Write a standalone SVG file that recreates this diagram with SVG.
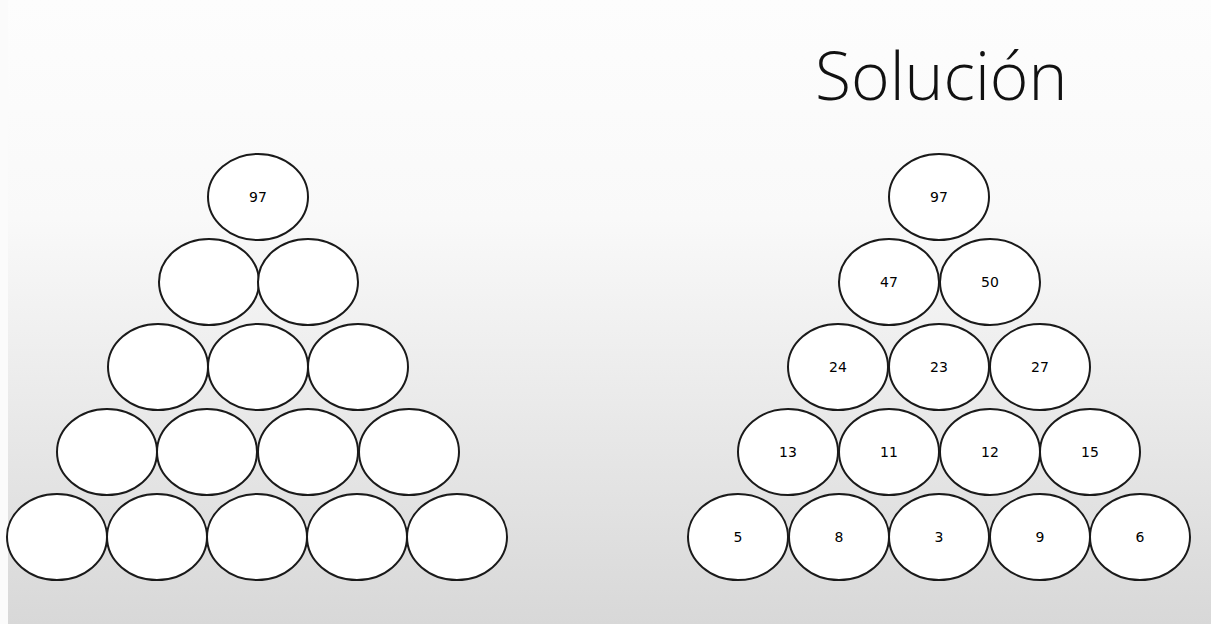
<svg xmlns="http://www.w3.org/2000/svg" width="1211" height="624" viewBox="0 0 1211 624">
  <defs>
    <linearGradient id="bg" x1="0" y1="0" x2="0" y2="1">
      <stop offset="0" stop-color="#fdfdfd"/>
      <stop offset="0.35" stop-color="#f9f9f9"/>
      <stop offset="1" stop-color="#d8d8d8"/>
    </linearGradient>
  </defs>
  <style>
    .c { fill: #ffffff; stroke: #1a1a1a; stroke-width: 2; }
    .n { font-family: "DejaVu Sans", Verdana, sans-serif; font-size: 14px; fill: #000000; text-anchor: middle; }
    .t { font-family: "Open Sans", "Noto Sans", sans-serif; font-weight: 300; font-size: 66px; fill: #111111; }
  </style>
  <rect x="0" y="0" width="1211" height="624" fill="url(#bg)"/>
  <rect x="0" y="0" width="8" height="624" fill="#fbfbfb"/>

  <text class="t" x="815" y="100">Solución</text>

  <g id="left-pyramid">
    <g id="L1"><ellipse class="c" cx="258" cy="197" rx="50" ry="43"/><text class="n" x="258" y="202">97</text></g>
    <g id="L2a"><ellipse class="c" cx="209" cy="282" rx="50" ry="43"/></g>
    <g id="L2b"><ellipse class="c" cx="308" cy="282" rx="50" ry="43"/></g>
    <g id="L3a"><ellipse class="c" cx="158" cy="367" rx="50" ry="43"/></g>
    <g id="L3b"><ellipse class="c" cx="258" cy="367" rx="50" ry="43"/></g>
    <g id="L3c"><ellipse class="c" cx="358" cy="367" rx="50" ry="43"/></g>
    <g id="L4a"><ellipse class="c" cx="107" cy="452" rx="50" ry="43"/></g>
    <g id="L4b"><ellipse class="c" cx="207" cy="452" rx="50" ry="43"/></g>
    <g id="L4c"><ellipse class="c" cx="308" cy="452" rx="50" ry="43"/></g>
    <g id="L4d"><ellipse class="c" cx="409" cy="452" rx="50" ry="43"/></g>
    <g id="L5a"><ellipse class="c" cx="57" cy="537" rx="50" ry="43"/></g>
    <g id="L5b"><ellipse class="c" cx="157" cy="537" rx="50" ry="43"/></g>
    <g id="L5c"><ellipse class="c" cx="257" cy="537" rx="50" ry="43"/></g>
    <g id="L5d"><ellipse class="c" cx="357" cy="537" rx="50" ry="43"/></g>
    <g id="L5e"><ellipse class="c" cx="457" cy="537" rx="50" ry="43"/></g>
  </g>

  <g id="right-pyramid">
    <g id="R1"><ellipse class="c" cx="939" cy="197" rx="50" ry="43"/><text class="n" x="939" y="202">97</text></g>
    <g id="R2a"><ellipse class="c" cx="889" cy="282" rx="50" ry="43"/><text class="n" x="889" y="287">47</text></g>
    <g id="R2b"><ellipse class="c" cx="990" cy="282" rx="50" ry="43"/><text class="n" x="990" y="287">50</text></g>
    <g id="R3a"><ellipse class="c" cx="838" cy="367" rx="50" ry="43"/><text class="n" x="838" y="372">24</text></g>
    <g id="R3b"><ellipse class="c" cx="939" cy="367" rx="50" ry="43"/><text class="n" x="939" y="372">23</text></g>
    <g id="R3c"><ellipse class="c" cx="1040" cy="367" rx="50" ry="43"/><text class="n" x="1040" y="372">27</text></g>
    <g id="R4a"><ellipse class="c" cx="788" cy="452" rx="50" ry="43"/><text class="n" x="788" y="457">13</text></g>
    <g id="R4b"><ellipse class="c" cx="889" cy="452" rx="50" ry="43"/><text class="n" x="889" y="457">11</text></g>
    <g id="R4c"><ellipse class="c" cx="990" cy="452" rx="50" ry="43"/><text class="n" x="990" y="457">12</text></g>
    <g id="R4d"><ellipse class="c" cx="1090" cy="452" rx="50" ry="43"/><text class="n" x="1090" y="457">15</text></g>
    <g id="R5a"><ellipse class="c" cx="738" cy="537" rx="50" ry="43"/><text class="n" x="738" y="542">5</text></g>
    <g id="R5b"><ellipse class="c" cx="839" cy="537" rx="50" ry="43"/><text class="n" x="839" y="542">8</text></g>
    <g id="R5c"><ellipse class="c" cx="939" cy="537" rx="50" ry="43"/><text class="n" x="939" y="542">3</text></g>
    <g id="R5d"><ellipse class="c" cx="1040" cy="537" rx="50" ry="43"/><text class="n" x="1040" y="542">9</text></g>
    <g id="R5e"><ellipse class="c" cx="1140" cy="537" rx="50" ry="43"/><text class="n" x="1140" y="542">6</text></g>
  </g>
</svg>
